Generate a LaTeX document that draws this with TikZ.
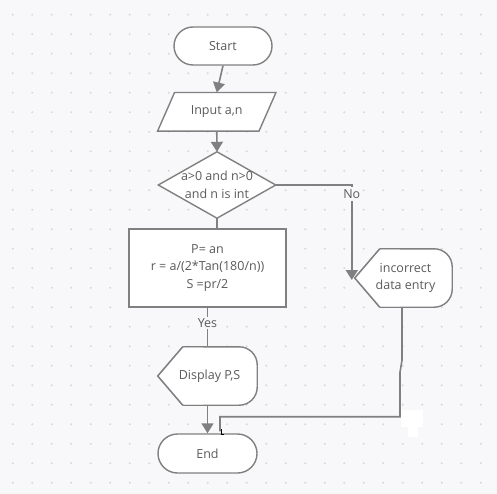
\documentclass[tikz,border=0pt]{standalone}
\usepackage{fontspec}
\setmainfont{Open Sans}
\usetikzlibrary{arrows.meta,calc}
\definecolor{bg}{HTML}{F8F8FA}
\definecolor{dotc}{HTML}{D9D9DC}
\definecolor{ln}{HTML}{808080}
\definecolor{tx}{HTML}{5A5A5A}
\tikzset{
  lbl/.style={font=\fontsize{12.5}{17.5}\selectfont, text=tx, align=center, inner sep=0pt},
  box/.style={lbl, minimum width=#1},
  shp/.style={draw=ln, fill=white, line width=1.4pt},
  con/.style={draw=ln, line width=1.6pt},
  arr/.style={con, -{Triangle[width=12pt,length=10pt]}},
  tagbg/.style={lbl, fill=bg, inner sep=1.5pt},
}
\begin{document}
\begin{tikzpicture}[x=1pt,y=-1pt]
\fill[bg] (0,0) rectangle (497,494);
\useasboundingbox (0,0) rectangle (497,494);
% dot grid
\foreach \i in {0,...,24}{\foreach \j in {0,...,24}{
  \fill[dotc] ({12.7+19.5*\i},{14.7+19.5*\j}) circle (1.1pt);}}
% white blob artifact
\fill[white] (401,410) rectangle (423,427);
\fill[white] (408,424) rectangle (418,437);

% nodes (sizes fixed, shapes drawn below)
\node[box=98, minimum height=38, shape=rectangle, rounded corners=19, shp] (start) at (223,46) {Start};
\node[box=101, minimum height=38.3] (inp) at (216.75,111.85) {};
\node[box=117, minimum height=66] (dia) at (217,185) {};
\node[box=157, minimum height=78, shp] (proc) at (207.5,268) {};
\node[box=99, minimum height=58] (disp) at (207.5,376) {};
\node[box=97, minimum height=58] (inc) at (403.5,278) {};
\node[box=99, minimum height=39, rounded corners=19.5, shp] (endn) at (207.5,453.5) {End};

% parallelogram
\draw[shp] ($(inp.north west)+(8.5,0)$) -- ($(inp.north east)+(8.5,0)$) -- ($(inp.south east)+(-8.5,0)$) -- ($(inp.south west)+(-8.5,0)$) -- cycle;
\node[lbl] at (inp) {Input a,n};
% diamond
\draw[shp] (dia.north) -- (dia.east) -- (dia.south) -- (dia.west) -- cycle;
\node[lbl] at (dia) {a>0 and n>0\\and n is int};
% process text
\node[lbl] at (proc) {P= an\\r = a/(2*Tan(180/n))\\S =pr/2};
% display shapes
\foreach \n/\t in {disp/{Display P,S},inc/{incorrect\\data entry}}{
  \draw[shp, rounded corners=18] ($(\n.north west)+(25,0)$) -- (\n.north east) -- (\n.south east) -- ($(\n.south west)+(25,0)$);
  \draw[shp] ($(\n.south west)+(25,0)$) -- (\n.west) -- ($(\n.north west)+(25,0)$);
  \fill[white] ($(\n.north west)+(25,0.8)$) -- (\n.west) -- ($(\n.south west)+(25,-0.8)$) -- ++(20,0) -- ($(\n.north west)+(45,0.8)$) -- cycle;
  \draw[ln, line width=1.4pt] ($(\n.south west)+(25,0)$) -- (\n.west) -- ($(\n.north west)+(25,0)$);
  \node[lbl] at ($(\n)+(2,0)$) {\t};
}

% connectors
\draw[arr] (start.south) -- (inp.north);
\draw[arr] (inp.south) -- (dia.north);
\draw[con] (dia.south) -- (dia.south |- proc.north);
\draw[con] (proc.south) -- node[tagbg, pos=0.4] {Yes} (proc.south |- disp.north);
\draw[arr] (disp.south) -- (endn.north);
\coordinate (nocorner) at ($(inc.west)+(-3,0)$);
\draw[arr] (dia.east) -- (nocorner |- dia.east) -- ($(nocorner)+(0,2)$);
\node[tagbg, inner sep=2pt] at ($(nocorner |- dia.east)+(0,9)$) {No};
\coordinate (a1) at ($(inc.south)+(-1.5,0)$);
\coordinate (a2) at ($(a1)+(0,53)$);
\coordinate (a3) at ($(a1)+(-2,65)$);
\coordinate (a4) at ($(a1)+(-2,109.5)$);
\coordinate (a5) at ($(endn.north)+(12.5,0)$);
\draw[con] (a1) -- (a2) -- (a3) -- (a4) -- (a4 -| a5) -- ($(a5)+(0,-2)$);
\draw[black, line width=0.8pt] ($(a5)+(1,-4)$) -- ($(a5)+(1,1)$) -- ($(a5)+(4,1)$);
\end{tikzpicture}
\end{document}
